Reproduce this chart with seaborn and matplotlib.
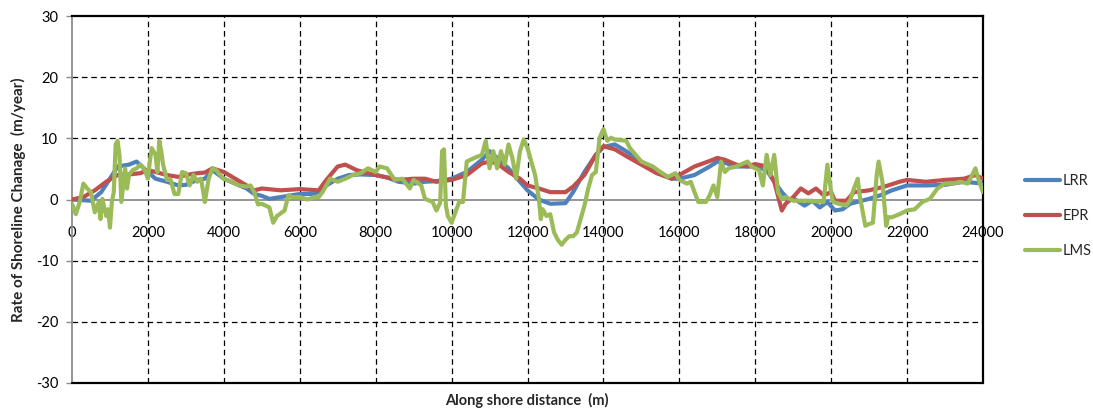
import numpy as np
import pandas as pd
import matplotlib
matplotlib.use("Agg")
import matplotlib.pyplot as plt
import seaborn as sns

# ---------------- data ----------------
lrr_x = [0, 500, 770, 1000, 1200, 1500, 1700, 2000, 2200, 2500, 2800, 3000, 3300, 3500, 3700,
         4000, 4300, 4600, 4800, 5000, 5200, 5500, 5800, 6000, 6300, 6500, 6700, 7000, 7300,
         7600, 8000, 8300, 8600, 9000, 9300, 9600, 10000, 10400, 10800, 11000, 11200, 11500,
         11800, 12000, 12300, 12600, 13000, 13200, 13500, 13800, 14000, 14300, 14600, 15000,
         15400, 15800, 16000, 16400, 16800, 17000, 17200, 17500, 17800, 18000, 18300, 18500,
         18700, 18900, 19000, 19300, 19500, 19700, 19900, 20100, 20300, 20500, 20800, 21000,
         21300, 21600, 22000, 22500, 23000, 23500, 24000]
lrr_y = [0.0, -0.2, 1.2, 3.4, 5.4, 5.7, 6.2, 4.5, 3.4, 2.9, 2.3, 2.4, 3.2, 3.4, 4.8,
         3.4, 2.6, 1.8, 0.9, 0.6, 0.1, 0.4, 0.7, 0.9, 0.9, 1.2, 2.3, 3.4, 4.0,
         4.1, 4.0, 3.6, 2.9, 2.6, 2.9, 3.0, 3.4, 4.5, 6.5, 7.9, 6.8, 5.1,
         2.9, 1.5, 0.0, -0.7, -0.6, 1.2, 4.5, 7.3, 8.6, 9.0, 7.9, 6.2,
         4.5, 3.4, 3.4, 4.0, 5.4, 6.2, 6.0, 5.4, 5.4, 5.4, 4.8, 2.9,
         1.2, -0.2, 0.2, -1.0, -0.2, -1.3, -0.4, -1.8, -1.6, -0.7, -0.2, 0.1,
         0.7, 1.5, 2.3, 2.3, 2.4, 2.9, 2.6]

epr_x = [0, 300, 600, 900, 1200, 1500, 1800, 2000, 2200, 2500, 2800, 3000, 3300, 3500, 3700,
         4000, 4300, 4600, 4800, 5000, 5500, 6000, 6500, 6700, 7000, 7200, 7500, 7800, 8000,
         8300, 8600, 9000, 9300, 9600, 10000, 10400, 10800, 11000, 11200, 11500, 11800, 12000,
         12300, 12600, 13000, 13200, 13500, 13800, 14000, 14300, 14600, 15000, 15400, 15800,
         16000, 16400, 16800, 17000, 17200, 17500, 17800, 18000, 18300, 18500, 18700, 18800,
         19000, 19200, 19400, 19600, 19800, 20000, 20100, 20400, 20600, 21000, 21400, 21800,
         22000, 22500, 23000, 23500, 23800, 24000]
epr_y = [0.0, 0.4, 1.5, 2.9, 4.0, 4.1, 4.3, 4.8, 4.5, 4.0, 3.7, 4.0, 4.3, 4.4, 5.1,
         4.5, 3.4, 2.3, 1.5, 1.8, 1.5, 1.7, 1.5, 3.2, 5.4, 5.7, 4.8, 4.3, 4.0,
         3.6, 3.2, 3.4, 3.4, 2.9, 3.2, 4.0, 5.9, 6.2, 5.9, 4.5, 3.4, 2.3,
         1.8, 1.2, 1.2, 2.1, 4.0, 7.3, 8.7, 8.2, 7.1, 5.7, 4.3, 3.4,
         4.0, 5.4, 6.3, 6.8, 6.5, 5.7, 5.4, 5.8, 5.4, 2.9, -1.8, -0.7,
         0.4, 1.8, 1.0, 1.8, 0.7, 1.2, -0.2, -0.2, 1.2, 1.5, 2.1, 2.9,
         3.2, 2.9, 3.2, 3.4, 4.0, 3.4]

lms_x = [0, 100, 200, 300, 400, 500, 600, 700, 750, 800, 900, 950, 1000, 1050, 1100, 1150,
         1200, 1250, 1300, 1350, 1400, 1450, 1500, 1600, 1700, 1800, 1900, 2000, 2050, 2100,
         2200, 2250, 2300, 2350, 2400, 2500, 2600, 2700, 2800, 2900, 3000, 3100, 3200, 3300,
         3400, 3500, 3600, 3700, 3800, 3900, 4000, 4200, 4400, 4600, 4700, 4800, 4900, 5000,
         5200, 5300, 5400, 5600, 5700, 5800, 6000, 6200, 6400, 6500, 6600, 6800, 7000, 7200,
         7400, 7600, 7800, 8000, 8100, 8300, 8500, 8700, 8900, 9000, 9200, 9300, 9500, 9600,
         9700, 9750, 9800, 9850, 9900, 10000, 10100, 10200, 10300, 10400, 10600, 10800, 10900,
         11000, 11100, 11200, 11300, 11400, 11500, 11600, 11700, 11800, 11900, 12000, 12100,
         12200, 12300, 12350, 12400, 12500, 12600, 12700, 12800, 12900, 13000, 13100, 13200,
         13300, 13400, 13500, 13600, 13700, 13800, 13900, 14000, 14100, 14200, 14300, 14600,
         14700, 15000, 15300, 15500, 15700, 15900, 16000, 16200, 16300, 16400, 16500, 16700,
         16800, 16900, 17000, 17100, 17200, 17300, 17500, 17800, 17900, 18100, 18200, 18300,
         18400, 18500, 18600, 18700, 18800, 19000, 19400, 19800, 19900, 20000, 20050, 20200,
         20400, 20500, 20600, 20700, 20750, 20800, 20900, 21000, 21100, 21200, 21250, 21350,
         21450, 21500, 21600, 21800, 22000, 22200, 22400, 22600, 22800, 23000, 23200, 23400,
         23600, 23800, 23900, 24000]
lms_y = [-0.7, -2.4, -0.5, 2.6, 1.8, 1.2, -2.1, -0.5, -3.2, 0.1, -2.7, -1.6, -4.6, -0.4, 1.2, 9.0,
         9.6, 7.3, -0.4, 2.3, 5.1, 1.8, 4.0, 4.8, 5.1, 5.7, 5.1, 3.4, 6.2, 8.4,
         7.3, 4.5, 9.6, 7.9, 5.7, 3.2, 3.2, 0.9, 0.9, 4.5, 4.3, 2.3, 4.0, 2.9,
         3.4, -0.4, 3.4, 5.1, 4.8, 4.0, 3.4, 2.9, 2.3, 2.1, 2.3, 1.2, -0.8, -0.7,
         -1.3, -3.8, -2.7, -1.8, 0.7, 0.4, 0.4, 0.0, 0.4, 0.4, 1.2, 3.4, 2.9, 3.4,
         4.0, 4.3, 5.1, 4.5, 5.4, 5.1, 3.2, 3.4, 1.8, 3.2, 2.3, 0.1, -0.4, -1.8,
         -0.5, 7.9, 8.2, -1.0, -2.7, -3.8, -2.1, -0.4, -0.4, 6.2, 6.8, 7.3, 9.6,
         5.1, 7.9, 5.1, 7.9, 5.7, 9.0, 6.8, 3.4, 7.9, 9.8, 8.4, 6.2,
         4.0, 0.1, -3.2, -1.6, -2.7, -2.4, -5.4, -6.6, -7.4, -6.6, -6.0, -6.0,
         -5.4, -3.2, -1.0, 1.8, 4.0, 4.5, 10.1, 11.5, 9.6, 10.1, 9.8, 9.6,
         8.4, 6.2, 5.4, 4.5, 3.7, 4.3, 3.2, 2.6, 2.9, 1.2, -0.4, -0.4,
         0.7, 2.3, 0.4, 6.2, 4.5, 5.1, 5.4, 6.2, 5.4, 4.8, 2.3, 7.3,
         4.0, 7.3, 1.2, 0.1, 0.4, -0.2, -0.2, -0.4, 5.7, 1.2, -0.4, -0.7,
         -1.0, -0.1, 1.8, 3.4, 0.7, -1.0, -4.3, -4.0, -3.8, 4.0, 6.2, 2.9,
         -4.3, -2.9, -2.9, -2.4, -1.8, -1.6, -0.4, 0.1, 1.8, 2.6, 2.6, 2.9,
         2.6, 5.1, 2.9, 1.2]

series_names = ["LRR", "EPR", "LMS"]
series_colors = ["#4F81BD", "#C0504D", "#9BBB59"]
x_ticks = list(range(0, 24001, 2000))
y_ticks = [-30, -20, -10, 0, 10, 20, 30]

# ---------------- figure ----------------
sns.set_style("white")
plt.rcParams["font.family"] = ["Lato", "DejaVu Sans"]
plt.rcParams["axes.unicode_minus"] = False

fig = plt.figure(figsize=(10.93, 4.12), dpi=100)
ax = fig.add_axes([72 / 1093, 1 - 383 / 412, (983 - 72) / 1093, (383 - 16) / 412])

frames = [pd.DataFrame({"distance": lrr_x, "rate": lrr_y, "series": "LRR"}),
          pd.DataFrame({"distance": epr_x, "rate": epr_y, "series": "EPR"}),
          pd.DataFrame({"distance": lms_x, "rate": lms_y, "series": "LMS"})]

dash = (0, (4.5, 3))
for gx in x_ticks[1:-1]:
    ax.axvline(gx, color="black", lw=0.9, linestyle=dash, zorder=1)
for gy in [-20, -10, 10, 20]:
    ax.axhline(gy, color="black", lw=0.9, linestyle=dash, zorder=1)
ax.axhline(-30, color="black", lw=1.6, zorder=3, clip_on=False)

for df, name, col in zip(frames, series_names, series_colors):
    sns.lineplot(data=df, x="distance", y="rate", color=col, lw=3.0, ax=ax,
                 estimator=None, sort=False, label=name, zorder=4)

ax.set_xlim(0, 24000)
ax.set_ylim(-30, 30)
ax.set_xticks(x_ticks)
ax.set_yticks(y_ticks)

ax.spines["bottom"].set_position(("data", 0))
ax.spines["bottom"].set_color("#8c8c8c")
ax.spines["bottom"].set_linewidth(1.3)
ax.spines["bottom"].set_zorder(2)
ax.spines["left"].set_color("#8c8c8c")
ax.spines["left"].set_linewidth(1.3)
ax.spines["top"].set_color("black")
ax.spines["top"].set_linewidth(1.6)
ax.spines["right"].set_color("black")
ax.spines["right"].set_linewidth(1.6)

ax.tick_params(axis="x", length=0, pad=19, labelsize=10.5, labelcolor="black")
ax.tick_params(axis="y", length=4, width=1, color="#8c8c8c", pad=6, labelsize=10.5,
               labelcolor="black", left=True)

ax.set_xlabel("")
ax.set_ylabel("")
fig.text(527 / 1093, 1 - 400 / 412, "Along shore distance  (m)", ha="center", va="center",
         fontsize=10.5, fontweight="bold")
fig.text(18 / 1093, 1 - 200 / 412, "Rate of Shoreline Chanage  (m/year)", ha="center",
         va="center", rotation=90, fontsize=11, fontweight="bold")

ax.legend(loc="center left", bbox_to_anchor=(1025 / 1093, 1 - 216 / 412),
          bbox_transform=fig.transFigure, frameon=False, fontsize=10.5,
          handlelength=2.4, handletextpad=0.2, labelspacing=1.45, borderpad=0,
          borderaxespad=0)

fig.savefig("out.png", dpi=100)
